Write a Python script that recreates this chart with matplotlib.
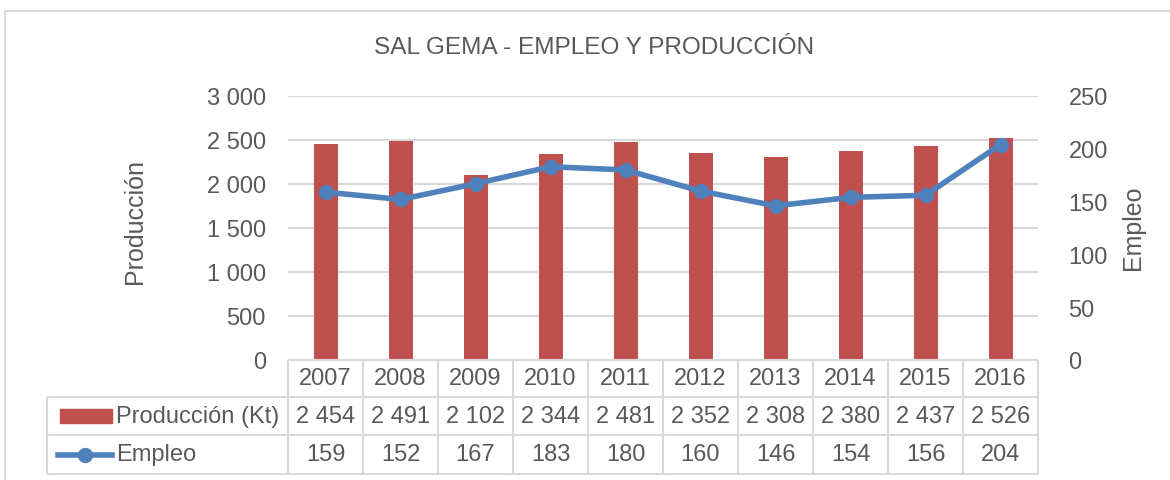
import matplotlib
matplotlib.use("Agg")
import matplotlib.pyplot as plt
from matplotlib.patches import Rectangle
from matplotlib.lines import Line2D

# datos
years = ["2007", "2008", "2009", "2010", "2011", "2012", "2013", "2014", "2015", "2016"]
produccion = [2454, 2491, 2102, 2344, 2481, 2352, 2308, 2380, 2437, 2526]
empleo = [159, 152, 167, 183, 180, 160, 146, 154, 156, 204]
prod_ticks = [0, 500, 1000, 1500, 2000, 2500, 3000]
emp_ticks = [0, 50, 100, 150, 200, 250]

RED = "#C0504D"
BLUE = "#4F81BD"
TXT = "#595959"
GRID = "#D9D9D9"
FS = 17

plt.rcParams["font.family"] = ["Liberation Sans", "DejaVu Sans"]
plt.rcParams["font.size"] = FS

W, H = 1170, 481


def fx(px):
    return px / W


def fy(py):
    return 1 - py / H


def fmt(v):
    return f"{v:,}".replace(",", " ")


fig = plt.figure(figsize=(W / 100, H / 100), dpi=100)

# marco del grafico
fig.patches.append(Rectangle((fx(5), fy(600)), 2, fy(12) - fy(600), transform=fig.transFigure,
                             fill=False, edgecolor=GRID, linewidth=1.5))

left, right, top, bottom = 288, 1038, 97, 361
ax = fig.add_axes([fx(left), fy(bottom), fx(right - left), fy(top) - fy(bottom)])
x = list(range(len(years)))
ax.bar(x, produccion, width=0.32, color=RED, zorder=2)
ax.set_xlim(-0.5, len(years) - 0.5)
ax.set_ylim(0, 3000)
ax.set_yticks(prod_ticks)
ax.set_yticklabels([fmt(t) for t in prod_ticks])
ax.set_xticks([])
ax.grid(axis="y", color=GRID, linewidth=1.5, zorder=0)
for s in ax.spines.values():
    s.set_visible(False)
ax.tick_params(axis="y", length=0, pad=16, colors=TXT, labelsize=FS)

ax2 = ax.twinx()
ax2.plot(x, empleo, color=BLUE, linewidth=4, marker="o", markersize=10, zorder=3)
ax2.set_ylim(0, 250)
ax2.set_yticks(emp_ticks)
for s in ax2.spines.values():
    s.set_visible(False)
ax2.tick_params(axis="y", length=0, pad=22, colors=TXT, labelsize=FS)

fig.text(fx(135), fy(222), "Producción", rotation=90, ha="center", va="center", color=TXT, fontsize=18)
fig.text(fx(1133), fy(228), "Empleo", rotation=90, ha="center", va="center", color=TXT, fontsize=18)
fig.text(fx(594), fy(48), "SAL GEMA - EMPLEO Y PRODUCCIÓN", ha="center", va="center", color=TXT,
         fontsize=17.6)

# tabla de datos
tab_bottom = 475
tab = fig.add_axes([fx(left), fy(tab_bottom), fx(right - left), fy(bottom) - fy(tab_bottom)])
tab.set_xlim(-0.5, len(years) - 0.5)
row_edges = [0, 37, 75, 114]  # px desde el eje
tab.set_ylim(row_edges[-1], 0)
tab.axis("off")
leg_left = -0.5 - (left - 47) / 75

lk = dict(color=GRID, linewidth=1.5, clip_on=False, solid_capstyle="butt")
for k in range(len(years) + 1):
    tab.plot([k - 0.5, k - 0.5], [0, row_edges[-1]], **lk)
tab.plot([-0.5, len(years) - 0.5], [0, 0], **lk)
for r in row_edges[1:]:
    tab.plot([leg_left, len(years) - 0.5], [r, r], **lk)
tab.plot([leg_left, leg_left], [row_edges[1], row_edges[-1]], **lk)

rows = [years, [fmt(v) for v in produccion], [str(v) for v in empleo]]
for ri, vals in enumerate(rows):
    yc = (row_edges[ri] + row_edges[ri + 1]) / 2
    for i, v in enumerate(vals):
        tab.text(i, yc, v, ha="center", va="center", color=TXT, fontsize=FS)

# leyenda dentro de la tabla
u = 1 / 75
y1 = (row_edges[1] + row_edges[2]) / 2
y2 = (row_edges[2] + row_edges[3]) / 2
tab.add_patch(Rectangle((leg_left + 13 * u, y1 - 7), 52 * u, 14, color=RED, clip_on=False))
tab.text(leg_left + 69 * u, y1, "Producción (Kt)", ha="left", va="center", color=TXT, fontsize=FS)
tab.add_line(Line2D([leg_left + 11 * u, leg_left + 65 * u], [y2, y2], color=BLUE, linewidth=4,
                    clip_on=False))
tab.plot([leg_left + 38 * u], [y2], marker="o", markersize=10, color=BLUE, clip_on=False)
tab.text(leg_left + 69 * u, y2, "Empleo", ha="left", va="center", color=TXT, fontsize=FS)

fig.savefig("out.png", dpi=100)
